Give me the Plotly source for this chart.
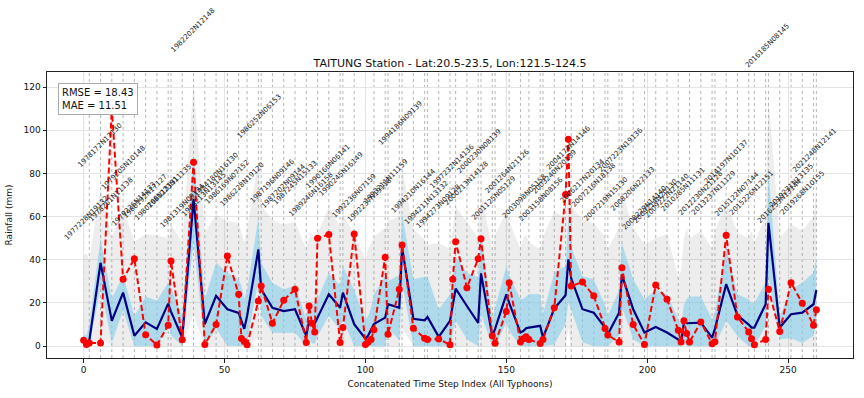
import plotly.graph_objects as go

# ---------------- data ----------------
time_step = [0, 1, 2, 6, 10, 14, 18, 22, 26, 30,
             31, 35, 39, 43, 47, 51, 55, 56, 57, 58,
             62, 63, 67, 71, 75, 79, 80, 81, 82, 83,
             87, 91, 92, 96, 100, 101, 102, 103, 107, 108,
             112, 113, 117, 121, 122, 126, 130, 131, 132, 136,
             140, 141, 145, 146, 150, 151, 155, 156, 157, 158,
             162, 163, 167, 171, 172, 173, 177, 181, 185, 186,
             190, 191, 195, 199, 203, 207, 211, 212, 213, 214,
             215, 219, 223, 224, 228, 232, 236, 237, 238, 242,
             243, 247, 251, 255, 259, 260]

observed = [2.7, 0.8, 1.5, 1.5, 110.0, 31.0, 40.5, 5.3, 0.5, 9.7,
            39.4, 3.0, 85.2, 0.8, 10.0, 41.7, 24.0, 3.5, 2.1, 0.6,
            20.9, 27.8, 10.6, 21.2, 26.4, 1.7, 18.6, 10.6, 6.5, 50.0,
            51.7, 1.7, 8.6, 52.0, 0.8, 1.9, 3.1, 7.6, 41.2, 5.5,
            26.3, 46.8, 8.3, 3.6, 3.1, 3.3, 0.6, 31.0, 48.3, 27.1,
            40.5, 49.7, 4.8, 1.3, 16.0, 29.4, 1.9, 3.4, 4.3, 3.1,
            1.2, 3.1, 17.8, 70.2, 95.8, 27.8, 29.7, 23.3, 8.2, 5.1,
            1.9, 36.3, 10.0, 0.8, 28.3, 21.7, 7.4, 1.9, 11.7, 5.9,
            1.9, 11.2, 1.1, 2.0, 51.4, 13.5, 6.6, 3.4, 0.6, 3.1,
            26.3, 6.8, 29.4, 19.9, 9.7, 16.8]

predicted = [1.0, 0.5, 2.4, 38.6, 11.7, 24.8, 4.8, 11.0, 8.0, 19.7,
             16.0, 4.0, 68.2, 10.2, 23.3, 17.1, 15.4, 12.0, 8.0, 14.0,
             44.8, 26.3, 17.8, 16.2, 17.1, 4.8, 11.7, 10.2, 10.5, 13.2,
             24.0, 17.8, 24.8, 10.2, 3.4, 5.0, 7.5, 10.2, 13.2, 19.4,
             17.8, 45.6, 12.7, 12.0, 13.5, 4.3, 11.7, 19.0, 26.6, 18.6,
             10.8, 33.7, 4.8, 8.0, 24.0, 20.0, 6.3, 7.0, 8.3, 8.6,
             9.4, 3.9, 17.4, 23.6, 40.2, 31.4, 17.1, 15.5, 8.6, 5.5,
             15.5, 32.9, 17.1, 6.3, 8.9, 6.3, 3.1, 1.0, 10.9, 10.6,
             10.6, 10.9, 3.9, 8.0, 28.7, 14.3, 10.0, 8.6, 8.6, 19.4,
             57.1, 8.6, 14.8, 15.5, 19.4, 26.0]

inner_band_upper = [5, 5, 10, 50, 22, 33, 14, 23, 21, 29.5,
                    27, 14, 88, 22, 38.6, 34, 31, 28, 22, 26,
                    59.4, 38.6, 29.4, 26.3, 28, 12.5, 20, 19, 20, 21.7,
                    34, 28, 37, 26, 12.5, 14, 18, 24, 32.4, 30,
                    33, 61.6, 31, 32, 32.4, 17, 24, 32, 41.6, 34,
                    32, 52.5, 12.5, 18, 37, 33, 21.7, 22, 23, 24,
                    24, 15, 34, 37, 60.2, 46, 32.4, 31, 19, 14,
                    26, 47.8, 31, 21.7, 26, 24, 12.5, 10, 19, 22,
                    23, 23, 12.5, 16, 45.7, 24, 21.7, 20, 20, 29.5,
                    82, 14, 26, 29.5, 34, 41]

outer_band_upper = [41.7, 42.9, 40, 73.4, 50.6, 64, 48.5, 52, 51.4, 50,
                    56.4, 47.9, 121.8, 52.7, 61, 58, 57, 52, 48, 54,
                    85.7, 65, 58.4, 56.3, 57.6, 45, 50, 52.7, 48, 52,
                    64.5, 55, 61.2, 52.1, 40, 45, 48, 50.5, 55, 58.2,
                    60, 82.9, 54.2, 49.3, 47, 47.8, 45, 55, 64.5, 57.6,
                    50, 70.9, 45, 51.4, 62.5, 58, 45, 50, 52.1, 48,
                    45, 50.6, 62.3, 60, 72.4, 65, 58.4, 56.9, 50.6, 45,
                    55, 71.6, 54.8, 47.2, 50, 52, 32, 35, 50, 54.8,
                    50, 53.5, 45, 53.5, 66.4, 52.7, 50, 53.5, 48, 60,
                    115.4, 50, 56.4, 53.5, 60, 71.6]

typhoon_ids = ["1977228N19132", "1978172N17130", "1978261N11138", "1979205N10148",
               "1979226N14133", "1980192N17127", "1980266N13131", "1981223N11135",
               "1981319N09134", "1982202N12148", "1983213N13145", "1984180N16130",
               "1986169N07152", "1986228N19120", "1986252N06153", "1987196N09146",
               "1987202N09144", "1987245N15133", "1989246N16158", "1990166N06141",
               "1990245N16149", "1992236N07159", "1992237N19118", "1993211N11159",
               "1994186N09139", "1994210N16144", "1994211N13132", "1994273N09128",
               "1997232N14136", "2000213N14128", "2000230N08139", "2001125N05129",
               "2001264N21126", "2003098N05158", "2003158N08156", "2003240N20139",
               "2004174N14146", "2006217N20134", "2007216N18138", "2007219N15130",
               "2007223N19136", "2008206N22133", "2008229N14140", "2009214N20130",
               "2009222N21140", "2010285N11131", "2012230N21128", "2013237N11129",
               "2014197N10137", "2015122N07144", "2015226N12151", "2016185N08145",
               "2016253N13144", "2019231N13135", "2019268N10155", "2021248N12141"]
typhoon_first_step = [0, 6, 10, 14, 18, 22, 26, 30, 35, 39, 43, 47, 51, 55, 62, 67,
                      71, 75, 79, 87, 91, 96, 100, 107, 112, 117, 121, 126, 130, 136,
                      140, 145, 150, 155, 162, 167, 171, 177, 181, 185, 190, 195, 199,
                      203, 207, 211, 219, 223, 228, 232, 236, 242, 247, 251, 255, 259]
typhoon_last_step = [2, 6, 10, 14, 18, 22, 26, 31, 35, 39, 43, 47, 51, 58, 63, 67,
                     71, 75, 83, 87, 92, 96, 103, 108, 113, 117, 122, 126, 132, 136,
                     141, 146, 151, 158, 163, 167, 173, 177, 181, 186, 191, 195, 199,
                     203, 207, 215, 219, 224, 228, 232, 238, 243, 247, 251, 255, 260]

rmse_value = 18.43
mae_value = 11.51
x_tick_values = [0, 50, 100, 150, 200, 250]
y_tick_values = [0, 20, 40, 60, 80, 100, 120]

assert len(time_step) == len(observed) == len(predicted) == len(inner_band_upper) == len(outer_band_upper)
assert len(typhoon_ids) == len(typhoon_first_step) == len(typhoon_last_step)

X_RANGE = [-13, 273]
Y_RANGE = [-5.5, 127]

# symmetric bands around the prediction, clipped at zero
inner_band_lower = [max(2 * p - u, 0) for p, u in zip(predicted, inner_band_upper)]
outer_band_lower = [max(2 * p - u, 0) for p, u in zip(predicted, outer_band_upper)]

FONT = "DejaVu Sans"
fig = go.Figure()

fig.add_trace(go.Scatter(x=time_step, y=outer_band_lower, mode="lines",
                         line=dict(width=0), hoverinfo="skip", showlegend=False))
fig.add_trace(go.Scatter(x=time_step, y=outer_band_upper, mode="lines", fill="tonexty",
                         fillcolor="rgba(128,128,128,0.14)", line=dict(width=0),
                         hoverinfo="skip", showlegend=False))
fig.add_trace(go.Scatter(x=time_step, y=inner_band_lower, mode="lines",
                         line=dict(width=0), hoverinfo="skip", showlegend=False))
fig.add_trace(go.Scatter(x=time_step, y=inner_band_upper, mode="lines", fill="tonexty",
                         fillcolor="rgba(135,206,235,0.62)", line=dict(width=0),
                         hoverinfo="skip", showlegend=False))
fig.add_trace(go.Scatter(x=time_step, y=predicted, mode="lines",
                         line=dict(color="#000080", width=2.2), name="Predicted",
                         showlegend=False))
fig.add_trace(go.Scatter(x=time_step, y=observed, mode="lines+markers",
                         line=dict(color="#ff0000", width=2, dash="6px,3px"),
                         marker=dict(color="#ff0000", size=7), name="Observed",
                         showlegend=False))

# typhoon boundaries and labels
shapes = []
annotations = []
boundaries = sorted(set(typhoon_first_step) | set(typhoon_last_step))
for b in boundaries:
    shapes.append(dict(type="line", xref="x", yref="paper", x0=b, x1=b, y0=0, y1=1,
                       line=dict(color="rgba(120,120,120,0.55)", width=1, dash="dot"),
                       layer="below"))
for name, first, last in zip(typhoon_ids, typhoon_first_step, typhoon_last_step):
    idx = [k for k, t in enumerate(time_step) if first <= t <= last]
    lx = sum(time_step[k] for k in idx) / len(idx)
    ly = 1.1 * max(outer_band_upper[k] for k in idx)
    # paper coordinates so labels above the axis range are still drawn
    px = (lx - X_RANGE[0]) / (X_RANGE[1] - X_RANGE[0])
    py = (ly - Y_RANGE[0]) / (Y_RANGE[1] - Y_RANGE[0])
    annotations.append(dict(x=px, y=py, xref="paper", yref="paper", text=name, textangle=-45,
                            showarrow=False, xanchor="center", yanchor="bottom",
                            font=dict(family=FONT, size=7, color="#222")))

annotations.append(dict(x=0.014, y=0.962, xref="paper", yref="paper",
                        text=f"RMSE = {rmse_value:.2f}<br>MAE = {mae_value:.2f}",
                        showarrow=False, xanchor="left", yanchor="top", align="left",
                        bgcolor="white", bordercolor="#aaaaaa", borderwidth=1, borderpad=3,
                        font=dict(family=FONT, size=10, color="#111")))

fig.update_layout(
    width=864, height=398,
    margin=dict(l=47, r=11, t=72, b=40, autoexpand=False),
    paper_bgcolor="white", plot_bgcolor="white",
    font=dict(family=FONT, size=9, color="#111"),
    title=dict(text="TAITUNG Station - Lat:20.5-23.5, Lon:121.5-124.5",
               x=0.5, xref="paper", xanchor="center",
               y=1 - 63 / 398, yref="container", yanchor="middle",
               font=dict(family=FONT, size=11, color="#111")),
    shapes=shapes, annotations=annotations, showlegend=False,
)
fig.update_xaxes(range=X_RANGE, tickvals=x_tick_values, ticks="outside", ticklen=3.5,
                 tickcolor="#222", showline=True, linecolor="#222", linewidth=1, mirror=True,
                 showgrid=True, gridcolor="#e4e4e4", gridwidth=1, zeroline=False,
                 automargin=False, tickfont=dict(size=9),
                 title=dict(text="Concatenated Time Step Index (All Typhoons)",
                            font=dict(size=9), standoff=6))
fig.update_yaxes(range=Y_RANGE, tickvals=y_tick_values, ticks="outside", ticklen=3.5,
                 tickcolor="#222", showline=True, linecolor="#222", linewidth=1, mirror=True,
                 showgrid=True, gridcolor="#e4e4e4", gridwidth=1, zeroline=False,
                 automargin=False, tickfont=dict(size=9),
                 title=dict(text="Rainfall (mm)", font=dict(size=9), standoff=9))

# remove the browser's default page margin so the figure sits at the window origin
fig.write_html("out.html", config={"displayModeBar": False},
               post_script="document.body.style.margin='0';document.body.style.padding='0';")
